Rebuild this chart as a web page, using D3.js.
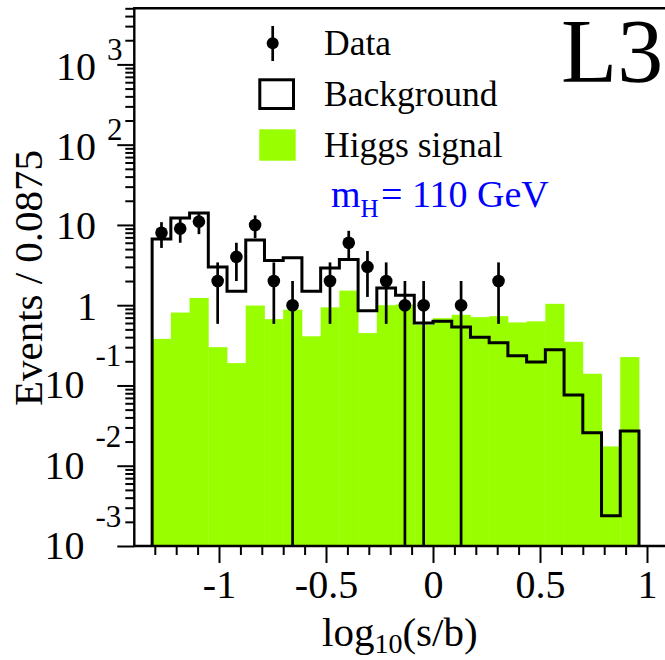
<!DOCTYPE html>
<html><head><meta charset="utf-8">
<script src="https://cdn.jsdelivr.net/npm/d3@7"></script>
<style>html,body{margin:0;padding:0;background:#fff;} svg{display:block;}</style>
</head><body><svg id="c" width="665" height="660"></svg>
<script>
// ---- data ----
const binLow = -1.3125;      // first filled bin lower edge, log10(s/b)
const binWidth = 0.0875;
const background = [6.7, 12.2, 14.1, 3.0, 1.49, 6.5, 3.6, 3.9, 1.49, 2.9, 3.7, 0.85, 1.64, 1.33,
                    0.60, 0.63, 0.535, 0.40, 0.34, 0.235, 0.196, 0.279, 0.076, 0.0258, 0.00239, 0.0271];
const higgs = [0.38, 0.81, 1.23, 0.30, 0.19, 0.99, 0.67, 0.88, 0.41, 0.94, 1.52, 0.45, 1.0, 1.02,
               0.57, 0.69, 0.76, 0.71, 0.73, 0.61, 0.63, 1.04, 0.35, 0.14, 0.0174, 0.226];
const dataCounts = [8, 9, 11, 2, 4, 10, 2, 1, 0, 2, 6, 3, 2, 1, 1, 0, 1, 0, 2, 0, 0, 0, 0, 0, 0, 0];
const xMajorTicks = [-1, -0.5, 0, 0.5, 1];
const xTickLabels = ["-1", "-0.5", "0", "0.5", "1"];
const xMinorTicks = [-1.3,-1.2,-1.1,-0.9,-0.8,-0.7,-0.6,-0.4,-0.3,-0.2,-0.1,0.1,0.2,0.3,0.4,0.6,0.7,0.8,0.9];
const yExponents = [-3, -2, -1, 0, 1, 2, 3];
const legendLabels = ["Data", "Background", "Higgs signal"];
const massLabel = ["m", "H", "= 110 GeV"];
const expLabel = "L3";
const xTitle = ["log", "10", "(s/b)"];
const yTitle = "Events / 0.0875";

// ---- layout ----
const W = 665, H = 660;
const font = "'Liberation Serif','Times New Roman',Times,serif";
const green = "#99ff00";
const svg = d3.select("#c");
svg.append("rect").attr("width", W).attr("height", H).attr("fill", "#fff");

const x = d3.scaleLinear().domain([-1.4, 1.05]).range([133.4, 657.7]);
const y = d3.scaleLog().domain([1e-3, 5e3]).range([546, 8.3]);
const yBot = y(1e-3);
const frameL = 134.3;

const bins = background.map((b, i) => ({
  lo: binLow + i * binWidth,
  hi: binLow + (i + 1) * binWidth,
  bkg: b, sig: higgs[i], n: dataCounts[i]
}));

// Higgs signal (filled)
svg.append("g").selectAll("rect").data(bins).join("rect")
  .attr("x", d => x(d.lo)).attr("width", d => x(d.hi) - x(d.lo) + 0.4)
  .attr("y", d => y(d.sig)).attr("height", d => yBot - y(d.sig))
  .attr("fill", green);

// Background step outline
const pts = [[bins[0].lo, 1e-3]];
bins.forEach(d => { pts.push([d.lo, d.bkg]); pts.push([d.hi, d.bkg]); });
pts.push([bins[bins.length - 1].hi, 1e-3]);
svg.append("path")
  .attr("d", d3.line().x(p => x(p[0])).y(p => Math.min(y(p[1]), yBot))(pts))
  .attr("fill", "none").attr("stroke", "#000").attr("stroke-width", 3)
  .attr("stroke-linejoin", "miter");

// Data points with sqrt(N) error bars
const dpts = bins.filter(d => d.n > 0);
const gData = svg.append("g");
gData.selectAll("line").data(dpts).join("line")
  .attr("x1", d => x((d.lo + d.hi) / 2)).attr("x2", d => x((d.lo + d.hi) / 2))
  .attr("y1", d => y(d.n + Math.sqrt(d.n)))
  .attr("y2", d => { const lo = d.n - Math.sqrt(d.n); return lo > 1e-3 ? y(lo) : yBot; })
  .attr("stroke", "#000").attr("stroke-width", 2.7);
gData.selectAll("circle").data(dpts).join("circle")
  .attr("cx", d => x((d.lo + d.hi) / 2)).attr("cy", d => y(d.n)).attr("r", 6.3)
  .attr("fill", "#000");

// ---- frame / axes ----
svg.append("line").attr("x1", frameL - 1).attr("x2", W).attr("y1", y.range()[1]).attr("y2", y.range()[1])
  .attr("stroke", "#000").attr("stroke-width", 2.6);
svg.append("line").attr("x1", frameL).attr("x2", frameL).attr("y1", y.range()[1] - 1).attr("y2", yBot + 1)
  .attr("stroke", "#000").attr("stroke-width", 2.4);
svg.append("line").attr("x1", frameL - 1).attr("x2", W).attr("y1", yBot).attr("y2", yBot)
  .attr("stroke", "#000").attr("stroke-width", 2.4);

// x axis ticks
const gxMinor = svg.append("g").attr("transform", `translate(0,${yBot})`)
  .call(d3.axisBottom(x).tickValues(xMinorTicks).tickSize(9).tickFormat(""));
const gxMajor = svg.append("g").attr("transform", `translate(0,${yBot})`)
  .call(d3.axisBottom(x).tickValues(xMajorTicks).tickSize(17)
        .tickFormat((d, i) => xTickLabels[i]));
[gxMinor, gxMajor].forEach(g => {
  g.select(".domain").remove();
  g.selectAll(".tick line").attr("stroke-width", 2);
});
gxMajor.selectAll(".tick text").attr("y", 52).attr("dy", null)
  .attr("font-family", font).attr("font-size", 40).attr("fill", "#000");

// y axis ticks
const yMinor = [];
for (let e = -3; e <= 3; e++) for (let m = 2; m <= 9; m++) {
  const v = m * Math.pow(10, e); if (v <= 5e3) yMinor.push(v);
}
const yMajor = yExponents.map(e => Math.pow(10, e));
const gyMinor = svg.append("g").attr("transform", `translate(${frameL},0)`)
  .call(d3.axisLeft(y).tickValues(yMinor).tickSize(9).tickFormat(""));
const gyMajor = svg.append("g").attr("transform", `translate(${frameL},0)`)
  .call(d3.axisLeft(y).tickValues(yMajor).tickSize(17).tickFormat(""));
[gyMinor, gyMajor].forEach(g => {
  g.select(".domain").remove();
  g.selectAll(".tick line").attr("stroke-width", 2);
});

// y tick labels (ROOT style 10^n)
const gyl = svg.append("g").attr("font-family", font).attr("fill", "#000");
yExponents.forEach(e => {
  const ty = y(Math.pow(10, e));
  if (e === 0) {
    gyl.append("text").attr("x", 97).attr("y", ty + 14.5).attr("text-anchor", "end")
      .attr("font-size", 40).text("1");
  } else if (e === 1) {
    gyl.append("text").attr("x", 96).attr("y", ty + 14.5).attr("text-anchor", "end")
      .attr("font-size", 40).text("10");
  } else if (e > 1) {
    gyl.append("text").attr("x", 96).attr("y", ty + 15.5).attr("text-anchor", "end")
      .attr("font-size", 40).text("10");
    gyl.append("text").attr("x", 107).attr("y", ty - 4.5).attr("font-size", 31).text(String(e));
  } else {
    gyl.append("text").attr("x", 84.5).attr("y", ty + 13).attr("text-anchor", "end")
      .attr("font-size", 40).text("10");
    gyl.append("text").attr("x", 95.5).attr("y", ty - 19).attr("font-size", 31).text(String(e));
  }
});

// axis titles
const xt = svg.append("text").attr("x", 322).attr("y", 645.5)
  .attr("font-family", font).attr("font-size", 41).attr("fill", "#000");
xt.append("tspan").text(xTitle[0]);
xt.append("tspan").attr("font-size", 28).attr("dy", 7).text(xTitle[1]);
xt.append("tspan").attr("dy", -7).text(xTitle[2]);

svg.append("text").attr("transform", "translate(41.5,278) rotate(-90)")
  .attr("text-anchor", "middle").attr("font-family", font).attr("font-size", 41)
  .attr("fill", "#000").text(yTitle);

// ---- legend ----
svg.append("line").attr("x1", 272.7).attr("x2", 272.7).attr("y1", 26).attr("y2", 61)
  .attr("stroke", "#000").attr("stroke-width", 2.7);
svg.append("circle").attr("cx", 272.7).attr("cy", 43.3).attr("r", 6).attr("fill", "#000");
svg.append("rect").attr("x", 259.8).attr("y", 79.8).attr("width", 33.7).attr("height", 28.7)
  .attr("fill", "none").attr("stroke", "#000").attr("stroke-width", 3);
svg.append("rect").attr("x", 259.3).attr("y", 129.3).attr("width", 36.4).attr("height", 31.4)
  .attr("fill", green);
const legY = [55, 106, 156.7];
legendLabels.forEach((t, i) => {
  svg.append("text").attr("x", 324).attr("y", legY[i]).attr("font-family", font)
    .attr("font-size", 35.5).attr("fill", "#000").text(t);
});
const mt = svg.append("text").attr("x", 331).attr("y", 206.7).attr("font-family", font)
  .attr("font-size", 38).attr("fill", "#0000ff");
mt.append("tspan").text(massLabel[0]);
mt.append("tspan").attr("font-size", 25).attr("dy", 10).text(massLabel[1]);
mt.append("tspan").attr("x", 381).attr("dy", -10).text(massLabel[2]);

svg.append("text").attr("x", 561).attr("y", 81.7).attr("font-family", font)
  .attr("font-size", 92).attr("fill", "#000").text(expLabel);
</script></body></html>
